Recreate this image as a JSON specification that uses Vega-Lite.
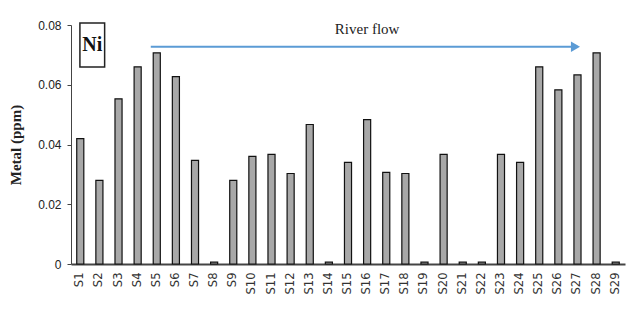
{
  "$schema": "https://vega.github.io/schema/vega-lite/v6.json",
  "width": 554,
  "height": 239,
  "autosize": {"type": "none"},
  "padding": {"left": 71, "top": 25, "right": 12, "bottom": 63},
  "background": "white",
  "config": {"view": {"stroke": null}},
  "datasets": {
    "bars": [
      {"site": "S1", "ni": 0.042},
      {"site": "S2", "ni": 0.028},
      {"site": "S3", "ni": 0.0553},
      {"site": "S4", "ni": 0.066},
      {"site": "S5", "ni": 0.0707},
      {"site": "S6", "ni": 0.0627},
      {"site": "S7", "ni": 0.0347},
      {"site": "S8", "ni": 0.0006},
      {"site": "S9", "ni": 0.028},
      {"site": "S10", "ni": 0.036},
      {"site": "S11", "ni": 0.0367},
      {"site": "S12", "ni": 0.0303},
      {"site": "S13", "ni": 0.0467},
      {"site": "S14", "ni": 0.0006},
      {"site": "S15", "ni": 0.034},
      {"site": "S16", "ni": 0.0483},
      {"site": "S17", "ni": 0.0307},
      {"site": "S18", "ni": 0.0303},
      {"site": "S19", "ni": 0.0006},
      {"site": "S20", "ni": 0.0367},
      {"site": "S21", "ni": 0.0006},
      {"site": "S22", "ni": 0.0006},
      {"site": "S23", "ni": 0.0367},
      {"site": "S24", "ni": 0.034},
      {"site": "S25", "ni": 0.066},
      {"site": "S26", "ni": 0.0583},
      {"site": "S27", "ni": 0.0633},
      {"site": "S28", "ni": 0.0707},
      {"site": "S29", "ni": 0.0006}
    ],
    "arrow": [{"start": "S5", "end": "S27", "y": 0.0727}],
    "label": [{"site": "S16", "y": 0.0785, "text": "River flow"}],
    "box": [{"site": "S1", "y": 0.0733, "text": "Ni"}]
  },
  "encoding": {
    "x": {
      "field": "site", "type": "nominal", "sort": null,
      "scale": {"paddingInner": 0.63, "paddingOuter": 0.3},
      "axis": {
        "title": null, "labelAngle": -90, "ticks": false,
        "labelFont": "DejaVu Sans", "labelFontSize": 11.5, "labelColor": "#333",
        "domainColor": "#444", "domainWidth": 2, "labelPadding": 8
      }
    }
  },
  "layer": [
    {
      "data": {"name": "bars"},
      "mark": {"type": "bar", "fill": "#a8a8a8", "stroke": "#111", "strokeWidth": 1.2},
      "encoding": {
        "y": {
          "field": "ni", "type": "quantitative",
          "scale": {"domain": [0, 0.08], "nice": false},
          "axis": {
            "title": "Metal (ppm)", "titleFont": "Liberation Serif", "titleFontSize": 15,
            "titleFontWeight": "bold", "titleColor": "#222", "titlePadding": 14,
            "values": [0, 0.02, 0.04, 0.06, 0.08],
            "labelExpr": "datum.value == 0 ? '0' : format(datum.value, '.2f')",
            "labelFont": "Liberation Sans", "labelFontSize": 12, "labelColor": "#222",
            "grid": false, "domainColor": "#444", "tickColor": "#444", "tickSize": 4,
            "labelPadding": 6
          }
        }
      }
    },
    {
      "data": {"name": "arrow"},
      "mark": {"type": "rule", "color": "#5b9bd5", "strokeWidth": 2, "xOffset": -6},
      "encoding": {
        "x": {"field": "start", "type": "nominal"},
        "x2": {"field": "end"},
        "y": {"field": "y", "type": "quantitative"}
      }
    },
    {
      "data": {"name": "arrow"},
      "mark": {"type": "point", "shape": "triangle-right", "filled": true, "color": "#5b9bd5", "size": 110, "opacity": 1, "xOffset": -2},
      "encoding": {
        "x": {"field": "end", "type": "nominal"},
        "y": {"field": "y", "type": "quantitative"}
      }
    },
    {
      "data": {"name": "label"},
      "mark": {"type": "text", "font": "Liberation Serif", "fontSize": 15, "color": "#222"},
      "encoding": {
        "x": {"field": "site", "type": "nominal"},
        "y": {"field": "y", "type": "quantitative"},
        "text": {"field": "text"}
      }
    },
    {
      "data": {"name": "box"},
      "mark": {"type": "point", "shape": "M-0.56,-1L0.56,-1L0.56,1L-0.56,1Z", "filled": false, "stroke": "#222", "strokeWidth": 1.5, "size": 1950, "opacity": 1, "xOffset": 12},
      "encoding": {
        "x": {"field": "site", "type": "nominal"},
        "y": {"field": "y", "type": "quantitative"}
      }
    },
    {
      "data": {"name": "box"},
      "mark": {"type": "text", "font": "Liberation Serif", "fontSize": 20, "fontWeight": "bold", "color": "#111", "xOffset": 12},
      "encoding": {
        "x": {"field": "site", "type": "nominal"},
        "y": {"field": "y", "type": "quantitative"},
        "text": {"field": "text"}
      }
    }
  ]
}
